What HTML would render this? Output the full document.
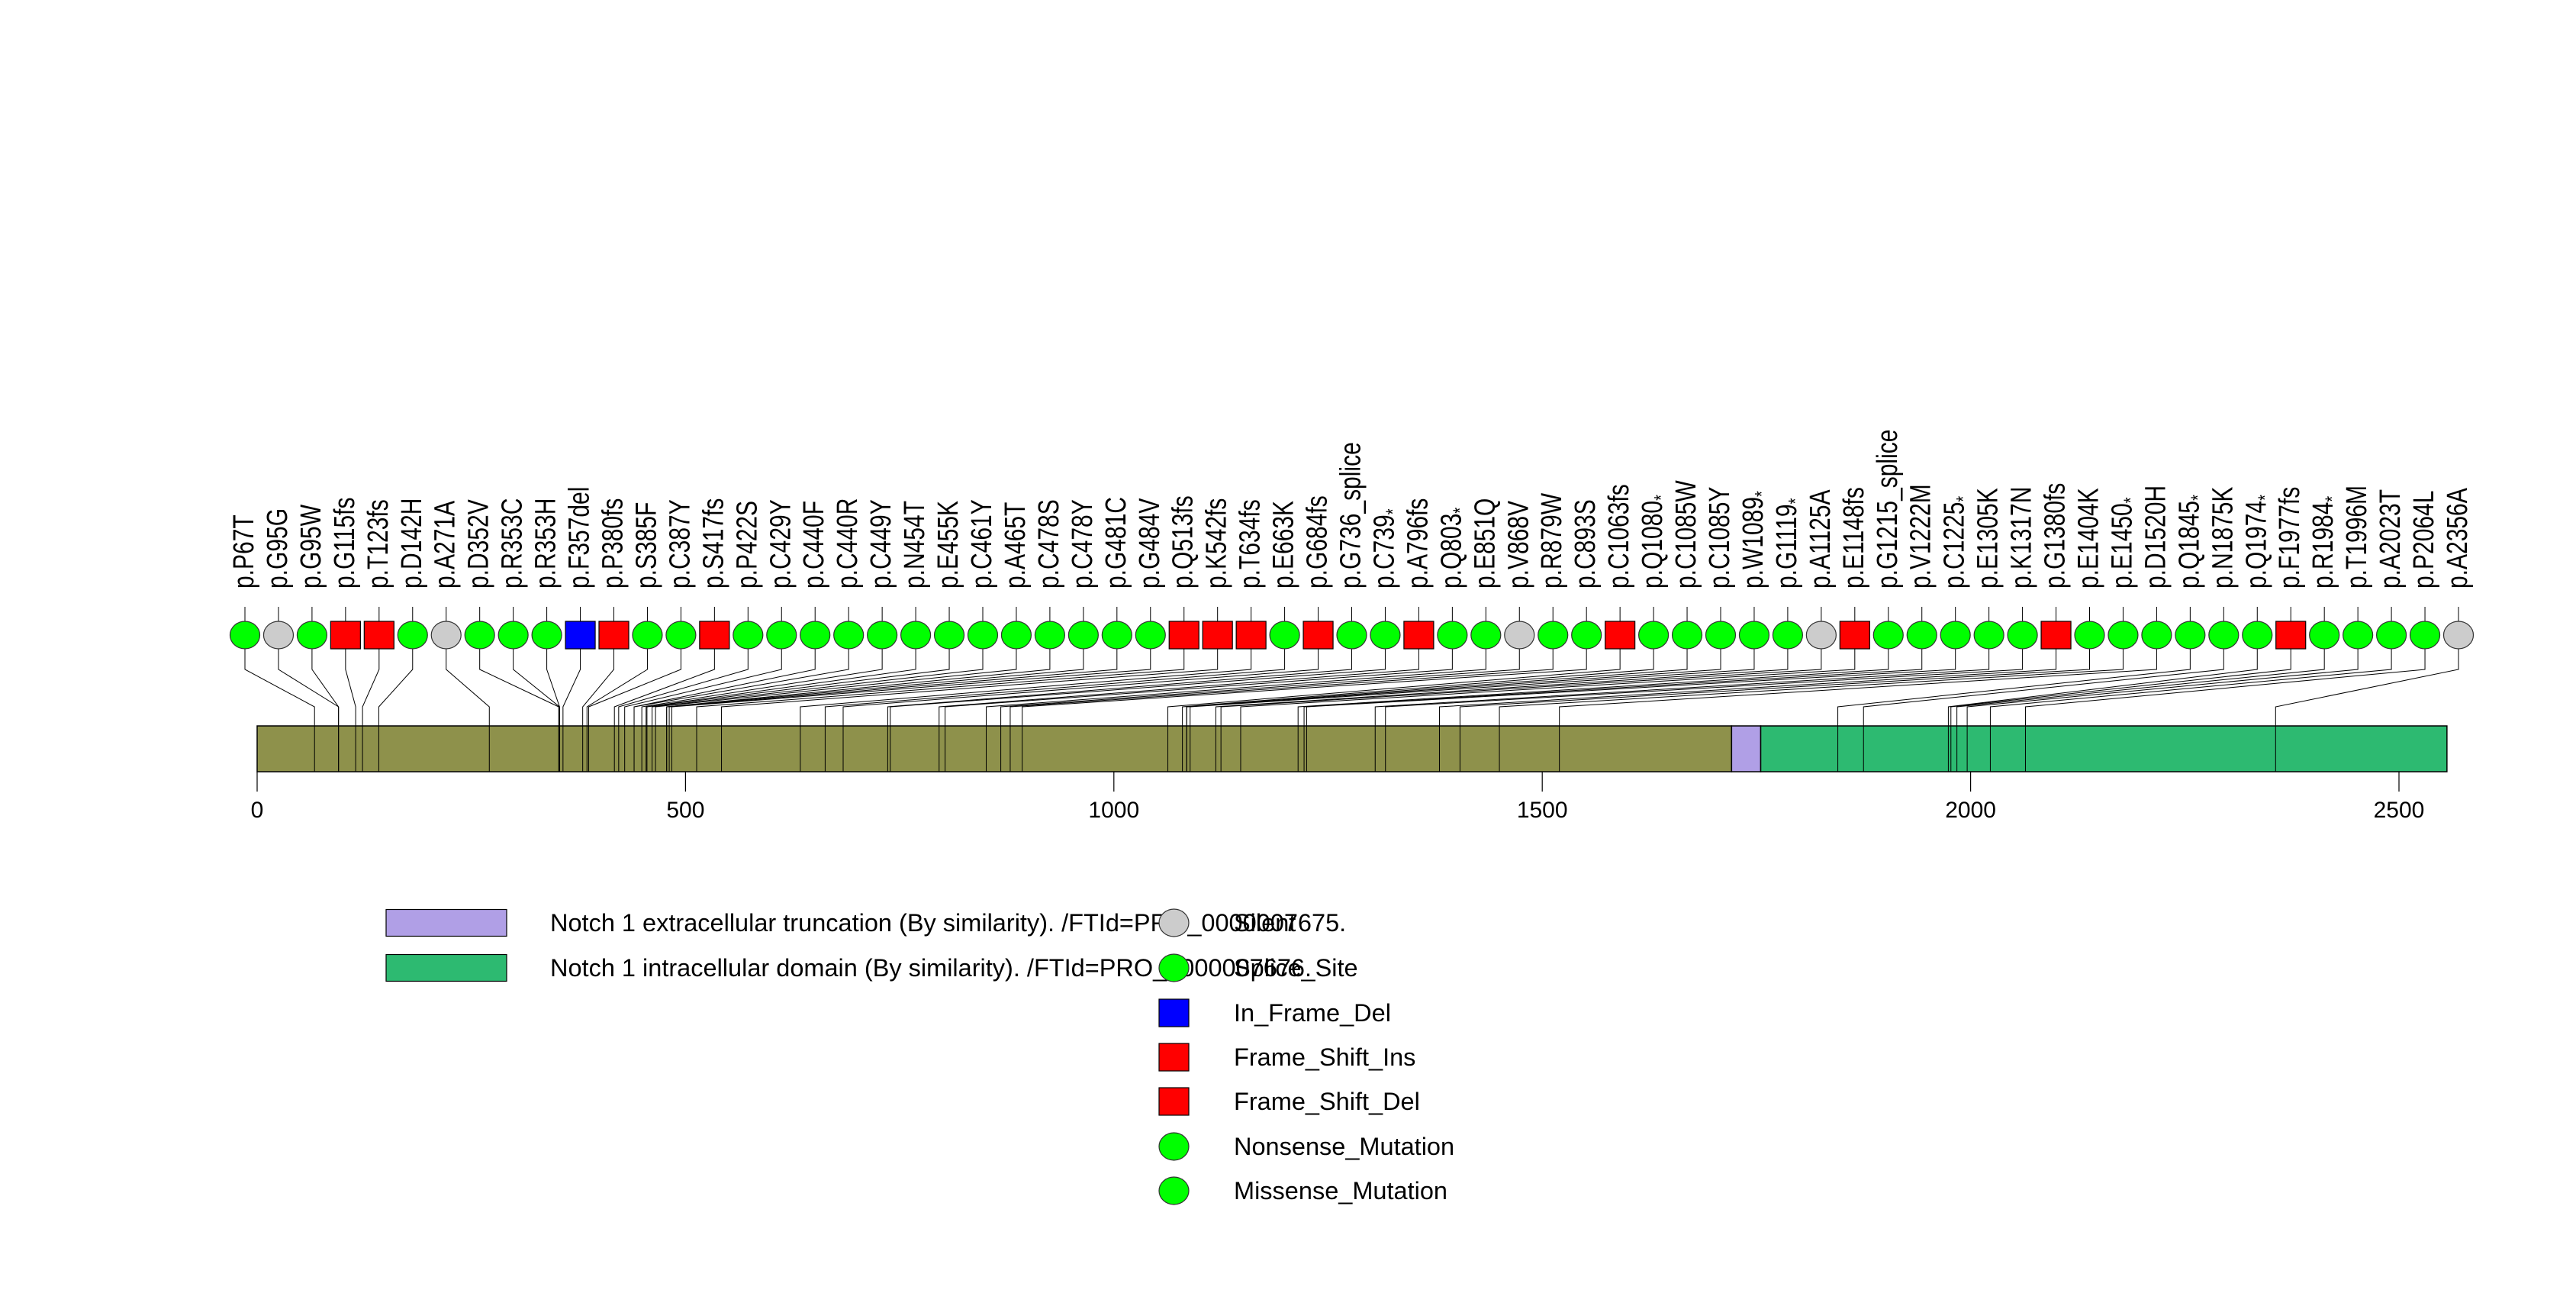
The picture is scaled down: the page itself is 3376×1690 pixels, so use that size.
<!DOCTYPE html>
<html><head><meta charset="utf-8"><style>
html,body{margin:0;padding:0;background:#fff;}
svg{display:block;font-family:"Liberation Sans",sans-serif;}
</style></head><body>
<svg id="chart" width="3376" height="1690" viewBox="0 0 3376 1690" xmlns="http://www.w3.org/2000/svg">
<rect x="0" y="0" width="3376" height="1690" fill="#fff"/>
<g id="bar"></g>
<g id="lines"></g>
<g id="marks"></g>
<g id="labels"></g>
<g id="axis"></g>
<g id="legend"></g>
</svg>
<script>
const labels = ["p.P67T","p.G95G","p.G95W","p.G115fs","p.T123fs","p.D142H","p.A271A","p.D352V","p.R353C","p.R353H","p.F357del","p.P380fs","p.S385F","p.C387Y","p.S417fs","p.P422S","p.C429Y","p.C440F","p.C440R","p.C449Y","p.N454T","p.E455K","p.C461Y","p.A465T","p.C478S","p.C478Y","p.G481C","p.G484V","p.Q513fs","p.K542fs","p.T634fs","p.E663K","p.G684fs","p.G736_splice","p.C739*","p.A796fs","p.Q803*","p.E851Q","p.V868V","p.R879W","p.C893S","p.C1063fs","p.Q1080*","p.C1085W","p.C1085Y","p.W1089*","p.G1119*","p.A1125A","p.E1148fs","p.G1215_splice","p.V1222M","p.C1225*","p.E1305K","p.K1317N","p.G1380fs","p.E1404K","p.E1450*","p.D1520H","p.Q1845*","p.N1875K","p.Q1974*","p.F1977fs","p.R1984*","p.T1996M","p.A2023T","p.P2064L","p.A2356A"];
const positions = [67,95,95,115,123,142,271,352,353,353,357,380,385,387,417,422,429,440,440,449,454,455,461,465,478,478,481,484,513,542,634,663,684,736,739,796,803,851,868,879,893,1063,1080,1085,1085,1089,1119,1125,1148,1215,1222,1225,1305,1317,1380,1404,1450,1520,1845,1875,1974,1977,1984,1996,2023,2064,2356];
const types = ["m","s","m","f","f","m","s","m","m","m","d","f","m","m","f","m","m","m","m","m","m","m","m","m","m","m","m","m","f","f","f","m","f","m","m","f","m","m","s","m","m","f","m","m","m","m","m","s","f","m","m","m","m","m","f","m","m","m","m","m","m","f","m","m","m","m","s"];
const domains = [{start:0,end:1721,color:"#8E914B",name:"protein-backbone"},{start:1721,end:1755,color:"#B09FE6",name:"extracellular-truncation-domain"},{start:1755,end:2556,color:"#2DBA71",name:"intracellular-domain"}];
const ticks = [0,500,1000,1500,2000,2500];

const NS="http://www.w3.org/2000/svg";
const X0=337, PX=1.1228;
const sx=v=>X0+v*PX;
const barTop=951, barBot=1011, cy=832;
const mx0=321, mstep=(3222-321)/(labels.length-1);
const colors={m:"#00FF00",s:"#CCCCCC",f:"#FF0000",d:"#0000FF"};
function el(tag,attrs,parent){const e=document.createElementNS(NS,tag);for(const k in attrs)e.setAttribute(k,attrs[k]);parent.appendChild(e);return e;}

const gBar=document.getElementById('bar');
domains.forEach(d=>{
  const r=el('rect',{x:sx(d.start),y:barTop,width:(d.end-d.start)*PX,height:barBot-barTop,fill:d.color,stroke:"#000","stroke-width":1.5},gBar);
  
  
});
const gL=document.getElementById('lines'), gM=document.getElementById('marks'), gT=document.getElementById('labels');
labels.forEach((lab,i)=>{
  const mx=mx0+i*mstep, px=sx(positions[i]);
  const p=el('polyline',{points:`${mx},795 ${mx},877 ${px},926 ${px},${barBot}`,fill:"none",stroke:"#000","stroke-width":1},gL);
  
  
  const t=types[i];
  let m;
  if(t==="f"||t==="d"){m=el('rect',{x:mx-19.5,y:cy-18,width:39,height:36,fill:colors[t],stroke:"#000","stroke-width":1.2},gM);}
  else{m=el('ellipse',{cx:mx,cy:cy,rx:19.5,ry:18,fill:colors[t],stroke:"#333","stroke-width":1.2},gM);}
  
  
  const tx=el('text',{transform:`translate(${mx+11},771) rotate(-90) scale(1,1.27)`,"font-size":30,fill:"#000"},gT);
  
  
  if(lab.endsWith("*")){tx.textContent=lab.slice(0,-1);const ts=el('tspan',{"font-size":20,dy:6},tx);ts.textContent="*";}
  else tx.textContent=lab;
});
const gA=document.getElementById('axis');
ticks.forEach(v=>{
  const l=el('line',{x1:sx(v),x2:sx(v),y1:barBot,y2:1037,stroke:"#000","stroke-width":1.2},gA);
  
  
  const t=el('text',{x:sx(v),y:1071,"text-anchor":"middle","font-size":30,fill:"#000"},gA);
  
  
  t.textContent=v;
});
const gG=document.getElementById('legend');
const domLeg=[["#B09FE6","Notch 1 extracellular truncation (By similarity). /FTId=PRO_0000007675.",1209],["#2DBA71","Notch 1 intracellular domain (By similarity). /FTId=PRO_0000007676.",1268]];
domLeg.forEach(d=>{
  const r=el('rect',{x:506,y:d[2]-17.5,width:158,height:35,fill:d[0],stroke:"#000","stroke-width":1.2},gG);
  
  
  const t=el('text',{x:721,y:d[2]+11,"font-size":32.5,fill:"#000"},gG);
  
  
  t.textContent=d[1];
});
const mutLeg=[["s","Silent",1209],["m","Splice_Site",1268],["d","In_Frame_Del",1327],["f","Frame_Shift_Ins",1385],["f","Frame_Shift_Del",1443],["m","Nonsense_Mutation",1502],["m","Missense_Mutation",1560]];
mutLeg.forEach(d=>{
  let s;
  if(d[0]==="f"||d[0]==="d")s=el('rect',{x:1519,y:d[2]-18,width:39,height:36,fill:colors[d[0]],stroke:"#000","stroke-width":1.2},gG);
  else s=el('ellipse',{cx:1538.5,cy:d[2],rx:19.5,ry:18,fill:colors[d[0]],stroke:"#333","stroke-width":1.2},gG);
  
  
  const t=el('text',{x:1617,y:d[2]+11,"font-size":32.5,fill:"#000"},gG);
  
  
  t.textContent=d[1];
});
</script>
</body></html>
